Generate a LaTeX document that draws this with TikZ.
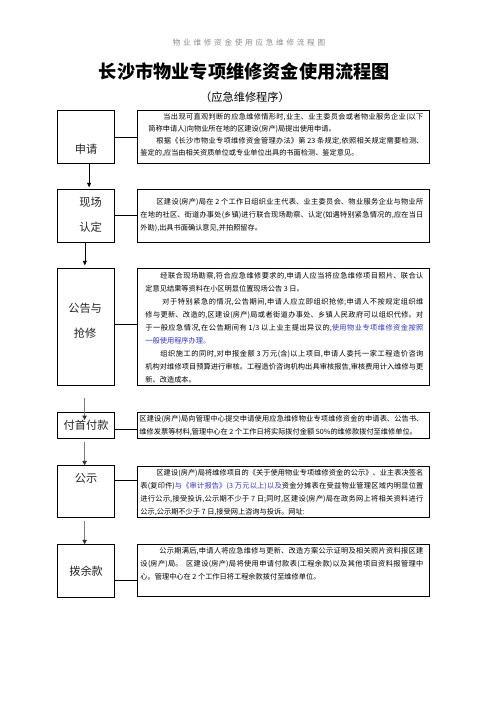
\documentclass[tikz,border=0pt]{standalone}
\usepackage{fontspec}
\setmainfont{Noto Sans CJK SC}
\newfontfamily\cjkspaced[LetterSpace=36]{Noto Sans CJK SC}
\usetikzlibrary{arrows.meta,calc}
\XeTeXlinebreaklocale "zh"
\XeTeXlinebreakskip=0pt plus 2pt minus 0.12pt
\definecolor{linkblue}{RGB}{51,51,204}
\definecolor{arrowgray}{RGB}{125,125,125}
\definecolor{headgray}{RGB}{140,140,140}
\tikzset{
  boxline/.style={draw=black, line width=0.9pt, inner sep=0pt, anchor=north west},
  lbox/.style={boxline, minimum width=56.7pt},
  rbox/.style={boxline, minimum width=292.8pt},
  llabel/.style={inner sep=0pt, align=center, text=black!85, font=\fontsize{11.2}{25}\selectfont},
  rtext/.style={inner sep=0pt, align=justify, font=\fontsize{7.2}{13}\selectfont},
  link/.style={draw=black, line width=0.7pt},
  blackarrow/.style={draw=black, line width=0.6pt, -{Triangle[length=4.5pt,width=4pt]}},
  grayarrow/.style={draw=arrowgray, line width=1.2pt, -{Triangle[length=4.5pt,width=4.5pt,color=black!80]}}
}
\begin{document}
\begin{tikzpicture}[x=1pt,y=-1pt]
\fill[white] (0,0) rectangle (496,702);
\useasboundingbox (0,0) rectangle (496,702);

% headings
\node[inner sep=0pt, text=headgray] (hdr) at (249,42.7) {\cjkspaced\fontsize{7.6}{9}\selectfont 物业维修资金使用应急维修流程图};
\node[inner sep=0pt] (title) at (244.5,71.7) {\fontsize{18.2}{20}\selectfont\bfseries 长沙市物业专项维修资金使用流程图};
\node[inner sep=0pt] (sub) at (245,97.7) {\fontsize{11.2}{13}\selectfont （应急维修程序）};

% left boxes
\node[lbox, minimum height=53.3pt] (l1) at (57.3,110) {};
\node[lbox, minimum height=53pt] (l2) at (57.3,189.3) {};
\node[lbox, minimum height=116.7pt] (l3) at (57.3,268.3) {};
\node[lbox, minimum height=26.3pt] (l4) at (57.3,412) {};
\node[lbox, minimum height=52pt] (l5) at (57.3,465.3) {};
\node[lbox, minimum height=52.4pt] (l6) at (57.3,544.3) {};

\node[llabel] (ll1) at ([yshift=-12.5pt]l1.center) {申请};
\node[llabel] (ll2) at ([xshift=4.5pt,yshift=1pt]l2.center) {现场\\认定};
\node[llabel] (ll3) at ([xshift=-1pt,yshift=6.5pt]l3.center) {公告与\\抢修};
\node[llabel] (ll4) at (l4.center) {付首付款};
\node[llabel] (ll5) at ([yshift=13pt]l5.center) {公示};
\node[llabel] (ll6) at (l6.center) {拨余款};

% right boxes
\node[rbox, minimum height=53.3pt] (r1) at (136.5,110) {};
\node[rbox, minimum height=53pt] (r2) at (136.5,189.3) {};
\node[rbox, minimum height=116.7pt] (r3) at (136.5,268.3) {};
\node[rbox, minimum height=26.5pt] (r4) at (136.5,411.8) {};
\node[rbox, minimum height=51pt] (r5) at (136.5,466.3) {};
\node[rbox, minimum height=52pt] (r6) at (136.5,544) {};

\node[rtext, text width=283pt, font=\fontsize{7.2}{11.7}\selectfont] (t1) at ([xshift=-1.4pt,yshift=2pt]r1.center) {%
\hspace*{23pt}当出现可直观判断的应急维修情形时,业主、业主委员会或者物业服务企业(以下\linebreak
\hspace*{8pt}简称申请人)向物业所在地的区建设(房产)局提出使用申请。\par
\hspace*{16pt}根据《长沙市物业专项维修资金管理办法》第 23 条规定,依照相关规定需要检测、\linebreak
鉴定的,应当由相关资质单位或专业单位出具的书面检测、鉴定意见。};

\node[rtext, text width=283pt] (t2) at ([xshift=-1.4pt,yshift=1.5pt]r2.center) {%
\hspace*{16pt}区建设(房产)局在 2 个工作日组织业主代表、业主委员会、物业服务企业与物业所\linebreak
在地的社区、街道办事处(乡镇)进行联合现场勘察、认定(如遇特别紧急情况的,应在当日\linebreak
外勘),出具书面确认意见,并拍照留存。};

\node[rtext, text width=278pt] (t3) at ([xshift=1.1pt,yshift=-1pt]r3.center) {%
\hspace*{15pt}经联合现场勘察,符合应急维修要求的,申请人应当将应急维修项目照片、联合认\linebreak
定意见结果等资料在小区明显位置现场公告 3 日。\par
\hspace*{17pt}对于特别紧急的情况,公告期间,申请人应立即组织抢修;申请人不按规定组织维\linebreak
修与更新、改造的,区建设(房产)局或者街道办事处、乡镇人民政府可以组织代修。对\linebreak
于一般应急情况,在公告期间有 1/3 以上业主提出异议的,\textcolor{linkblue}{使用物业专项维修资金按照\linebreak
一般使用程序办理。}\par
\hspace*{15pt}组织施工的同时,对申报金额 3 万元(含)以上项目,申请人委托一家工程造价咨询\linebreak
机构对维修项目预算进行审核。工程造价咨询机构出具审核报告,审核费用计入维修与更\linebreak
新、改造成本。};

\node[rtext, text width=284pt] (t4) at ([xshift=-1.9pt]r4.center) {%
\parfillskip=0pt
区建设(房产)局向管理中心提交申请使用应急维修物业专项维修资金的申请表、公告书、\linebreak
维修发票等材料,管理中心在 2 个工作日将实际拨付金额 50\%的维修款拨付至维修单位。};

\node[rtext, text width=283pt] (t5) at ([xshift=-1.4pt]r5.center) {%
\hspace*{16pt}区建设(房产)局将维修项目的《关于使用物业专项维修资金的公示》、业主表决签名\linebreak
表(复印件)\textcolor{linkblue}{与《审计报告》(3 万元以上)以及}资金分摊表在受益物业管理区域内明显位置\linebreak
进行公示,接受投诉,公示期不少于 7 日;同时,区建设(房产)局在政务网上将相关资料进行\linebreak
公示,公示期不少于 7 日,接受网上咨询与投诉。网址:};

\node[rtext, text width=283pt] (t6) at ([xshift=-1.4pt,yshift=6.5pt]r6.center) {%
\hspace*{19pt}公示期满后,申请人将应急维修与更新、改造方案公示证明及相关照片资料报区建\linebreak
设(房产)局。\ \ 区建设(房产)局将使用申请付款表(工程余款)以及其他项目资料报管理中\linebreak
心。管理中心在 2 个工作日将工程余款拨付至维修单位。};

% horizontal links
\draw[link] (l1.east) -- (r1.west);
\draw[link] ([yshift=1pt]l2.east) -- ([yshift=1pt]l2.east -| r2.west);
\draw[link] ([yshift=2.5pt]l3.east) -- ([yshift=2.5pt]l3.east -| r3.west);
\draw[link] ([yshift=-4pt]l4.east) -- ([yshift=-4pt]l4.east -| r4.west);
\draw[link] ([yshift=11pt]l5.east) -- ([yshift=11pt]l5.east -| r5.west);
\draw[link] ([yshift=-9pt]l6.east) -- ([yshift=-9pt]l6.east -| r6.west);

% vertical arrows
\draw[blackarrow] ([xshift=3pt]l1.south) -- ([xshift=3pt,yshift=2pt]l2.north);
\draw[blackarrow] ([xshift=-1.3pt]l2.south) -- ([xshift=-1.3pt,yshift=3pt]l3.north);
\draw[grayarrow] ([xshift=-1.5pt,yshift=-12pt]l3.south) -- ([xshift=-1.5pt,yshift=-8pt]l4.north);
\draw[grayarrow] ([xshift=-1.5pt,yshift=-3pt]l4.south) -- ([xshift=-1.5pt]l5.north);
\draw[grayarrow] ([xshift=-1.5pt,yshift=-3pt]l5.south) -- ([xshift=-1.5pt]l6.north);
\end{tikzpicture}
\end{document}
